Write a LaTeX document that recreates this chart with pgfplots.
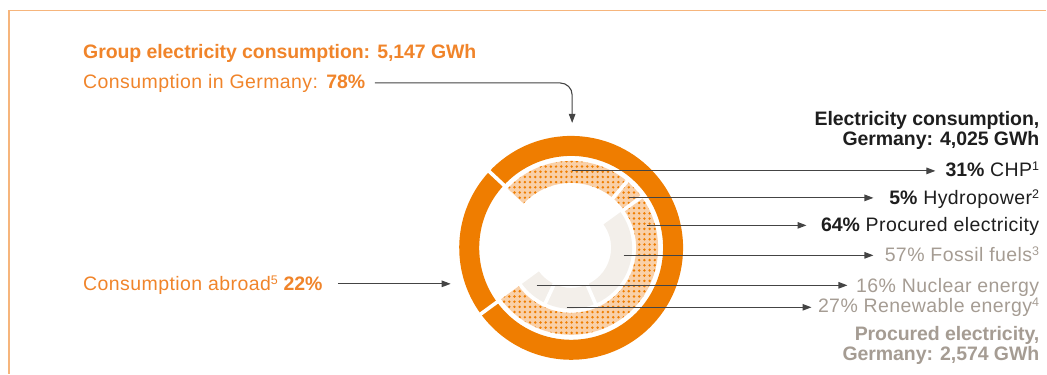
\documentclass[border=0pt]{standalone}
\usepackage{pgfplots}
\pgfplotsset{compat=1.18}
\usepackage{pgfplotstable}
\usepackage{fontspec}
\setmainfont{Liberation Sans}[UprightFeatures={LetterSpace=2.2}, BoldFeatures={LetterSpace=-0.4}]
\usetikzlibrary{arrows.meta,patterns.meta}
\definecolor{ringorange}{HTML}{EF7D00}
\definecolor{txtorange}{HTML}{F0842A}
\definecolor{peach}{HTML}{F9D0A8}
\definecolor{beige}{HTML}{F3EFEA}
\definecolor{graytxt}{HTML}{A59C93}
\definecolor{blacktxt}{HTML}{1E1E1E}
\definecolor{frameor}{HTML}{F6B57C}
\definecolor{linegray}{HTML}{444444}
\newcommand\sups[1]{\raisebox{0.6ex}{\fontsize{12.5}{12}\selectfont #1}}
\newcommand\sector[5]{%
  \path[#1] ([shift={(#4:#3)}]c) arc[start angle=#4, end angle=#5, radius=#3]
    -- ([shift={(#5:#2)}]c) arc[start angle=#5, end angle=#4, radius=#2] -- cycle;}
\newcommand\sep[3]{\draw[white, line width=3.6pt] ([shift={(#1:#2)}]c) -- ([shift={(#1:#3)}]c);}
\tikzset{dotted ring/.style={fill=peach, postaction={pattern={Dots[distance=5.2pt, radius=1.35pt]}, pattern color=ringorange}}}

\pgfplotstableread{
seg pct
Germany 78
Abroad 22
}\outerdata
\pgfplotstableread{
seg pct
CHP 31
Hydropower 5
Procured 64
}\middata
\pgfplotstableread{
seg pct
Fossil 57
Renewable 27
Nuclear 16
}\innerdata

\begin{document}
\begin{tikzpicture}
\pgfplotstablegetelem{0}{pct}\of\outerdata \pgfmathsetmacro\pG{\pgfplotsretval}
\pgfplotstablegetelem{1}{pct}\of\outerdata \pgfmathsetmacro\pA{\pgfplotsretval}
\pgfplotstablegetelem{0}{pct}\of\middata \pgfmathsetmacro\pC{\pgfplotsretval}
\pgfplotstablegetelem{1}{pct}\of\middata \pgfmathsetmacro\pH{\pgfplotsretval}
\pgfplotstablegetelem{2}{pct}\of\middata \pgfmathsetmacro\pP{\pgfplotsretval}
\pgfplotstablegetelem{0}{pct}\of\innerdata \pgfmathsetmacro\pF{\pgfplotsretval}
\pgfplotstablegetelem{1}{pct}\of\innerdata \pgfmathsetmacro\pR{\pgfplotsretval}
\pgfplotstablegetelem{2}{pct}\of\innerdata \pgfmathsetmacro\pN{\pgfplotsretval}
\def\astart{137}
\pgfmathsetmacro\spanG{3.6*\pG}
\pgfmathsetmacro\aGend{\astart-\spanG}
\pgfmathsetmacro\aAend{\astart+3.6*\pA}
\pgfmathsetmacro\aCHP{\astart-\spanG/100*\pC}
\pgfmathsetmacro\aHyd{\aCHP-\spanG/100*\pH}
\pgfmathsetmacro\spanP{\spanG/100*\pP}
\pgfmathsetmacro\aFos{\aHyd-\spanP/100*\pF}
\pgfmathsetmacro\aRen{\aFos-\spanP/100*\pR}
\pgfmathsetmacro\aNuc{\aRen-\spanP/100*\pN}
\begin{axis}[hide axis, scale only axis, width=1047pt, height=374pt,
  xmin=0, xmax=1047, ymin=0, ymax=374, y dir=reverse, clip=false]
\path (axis cs:0,0) rectangle (axis cs:1047,374);
\coordinate (c) at (axis cs:571.5,248);
% frame
\draw[frameor, line width=1.3pt] (axis cs:9,374) -- (axis cs:9,10.5) -- (axis cs:1047,10.5);
% outer ring
\sector{fill=ringorange}{92pt}{112pt}{\astart}{\aGend}
\sector{fill=ringorange}{92pt}{112pt}{\astart}{\aAend}
% middle ring
\sector{dotted ring}{65pt}{87pt}{\astart}{\aCHP}
\sector{dotted ring}{65pt}{87pt}{\aCHP}{\aHyd}
\sector{dotted ring}{65pt}{87pt}{\aHyd}{\aGend}
% inner ring
\sector{fill=beige}{40pt}{61pt}{\aHyd}{\aFos}
\sector{fill=beige}{40pt}{61pt}{\aFos}{\aRen}
\sector{fill=beige}{40pt}{61pt}{\aRen}{\aNuc}
% separators
\sep{\astart}{89pt}{115pt}
\sep{\aGend}{89pt}{115pt}
\sep{\aCHP}{62pt}{89pt}
\sep{\aHyd}{62pt}{89pt}
\sep{\aFos}{37pt}{63pt}
\sep{\aRen}{37pt}{63pt}
% arrows
\begin{scope}[linegray, line width=1.1pt, -{Triangle[length=9pt,width=6.5pt]}]
\draw[rounded corners=12pt] (axis cs:375,83) -| (axis cs:572.5,123);
\draw (axis cs:338,284) -- (axis cs:451,284);
\draw (axis cs:572,171) -- (axis cs:936,171);
\draw (axis cs:629,198) -- (axis cs:874,198);
\draw (axis cs:647,225.5) -- (axis cs:807,225.5);
\draw (axis cs:624,255.5) -- (axis cs:874,255.5);
\draw (axis cs:537,285.5) -- (axis cs:848,285.5);
\draw (axis cs:567,307.5) -- (axis cs:812,307.5);
\end{scope}
% texts
\begin{scope}[every node/.style={inner sep=0pt, font=\fontsize{19.5}{22}\selectfont}]
\node[anchor=base west, txtorange] at (axis cs:83,59) {\textbf{Group electricity consumption: 5,147 GWh}};
\node[anchor=base west, txtorange] at (axis cs:83,89) {Consumption in Germany: \textbf{78\%}};
\node[anchor=base west, txtorange] at (axis cs:83,291) {Consumption abroad\sups{5} \textbf{22\%}};
\node[anchor=base east, blacktxt] at (axis cs:1040,125.5) {\textbf{Electricity consumption,}};
\node[anchor=base east, blacktxt] at (axis cs:1040,146) {\textbf{Germany: 4,025 GWh}};
\node[anchor=base east, blacktxt] at (axis cs:1040,177) {\textbf{31\%} CHP\sups{1}};
\node[anchor=base east, blacktxt] at (axis cs:1040,205) {\textbf{5\%} Hydropower\sups{2}};
\node[anchor=base east, blacktxt] at (axis cs:1040,231.5) {\textbf{64\%} Procured electricity};
\node[anchor=base east, graytxt] at (axis cs:1040,261.5) {57\% Fossil fuels\sups{3}};
\node[anchor=base east, graytxt] at (axis cs:1040,293) {16\% Nuclear energy};
\node[anchor=base east, graytxt] at (axis cs:1040,313) {27\% Renewable energy\sups{4}};
\node[anchor=base east, graytxt] at (axis cs:1040,340.5) {\textbf{Procured electricity,}};
\node[anchor=base east, graytxt] at (axis cs:1040,360.5) {\textbf{Germany: 2,574 GWh}};
\end{scope}
\end{axis}
\end{tikzpicture}
\end{document}
